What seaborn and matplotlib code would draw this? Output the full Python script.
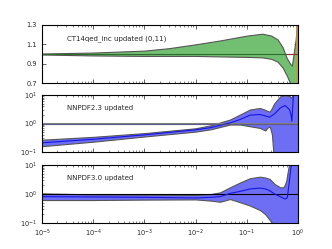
import numpy as np
import pandas as pd
import seaborn as sns
import matplotlib
matplotlib.use("Agg")
import matplotlib.pyplot as plt

# panel 1: CT14qed_inc updated (0,11), linear ratio
x1 = [1e-5, 1e-4, 1e-3, 3e-3, 1e-2, 3e-2, 0.1, 0.2, 0.3, 0.4, 0.5, 0.6, 0.7, 0.76, 0.82, 0.9, 0.95, 1.0]
up1 = [1.005, 1.015, 1.035, 1.06, 1.10, 1.14, 1.19, 1.21, 1.19, 1.15, 1.07, 0.96, 0.90, 0.88, 1.0, 1.15, 1.3, 1.5]
lo1 = [0.995, 0.985, 0.98, 0.98, 0.98, 0.975, 0.97, 0.965, 0.95, 0.92, 0.86, 0.78, 0.70, 0.60, 0.5, 0.5, 0.5, 0.5]
ce1 = [1.0, 1.0, 1.0, 1.0, 1.0, 1.0, 1.0, 1.0, 1.0, 1.0, 1.0, 1.0, 1.0, 1.0, 1.0, 1.0, 1.0, 1.0]

# panel 2: NNPDF2.3 updated, log ratio
x2 = [1e-5, 1e-4, 1e-3, 1e-2, 0.02, 0.047, 0.074, 0.115, 0.18, 0.23, 0.25, 0.28, 0.31, 0.33,
      0.35, 0.45, 0.56, 0.68, 0.73, 0.76, 0.81, 0.9, 1.0]
up2 = [0.27, 0.34, 0.46, 0.68, 0.87, 1.38, 2.07, 3.1, 3.5, 3.0, 2.8, 2.6, 3.5, 4.5,
       5.3, 9.0, 10.0, 9.0, 8.0, 9.0, 12.0, 15.0, 20.0]
lo2 = [0.16, 0.23, 0.35, 0.52, 0.63, 0.92, 0.92, 0.80, 0.70, 0.57, 0.70, 0.80, 0.41, 0.09,
       0.05, 0.03, 0.03, 0.03, 0.03, 0.03, 0.03, 0.03, 0.03]
ce2 = [0.21, 0.28, 0.40, 0.60, 0.72, 1.05, 1.38, 1.96, 2.07, 1.85, 1.75, 1.67, 1.9, 2.05,
       2.2, 3.5, 4.3, 3.1, 2.0, 1.2, 9.0, 15.0, 20.0]

# panel 3: NNPDF3.0 updated, log ratio
x3 = [1e-5, 1e-4, 1e-3, 1e-2, 0.02, 0.03, 0.047, 0.074, 0.115, 0.18, 0.23, 0.28, 0.35, 0.45,
      0.52, 0.56, 0.59, 0.62, 0.65, 0.68, 0.74, 0.85, 1.0]
up3 = [1.05, 0.97, 0.95, 0.92, 1.0, 1.14, 1.7, 2.5, 3.5, 3.96, 3.7, 3.3, 2.2, 1.7,
       1.7, 2.2, 2.9, 5.0, 8.0, 12.0, 15.0, 20.0, 20.0]
lo3 = [0.62, 0.62, 0.64, 0.65, 0.59, 0.54, 0.67, 0.52, 0.40, 0.28, 0.20, 0.127, 0.08, 0.05,
       0.05, 0.05, 0.05, 0.05, 0.05, 0.05, 0.05, 0.05, 0.05]
ce3 = [0.81, 0.79, 0.77, 0.73, 0.77, 0.81, 1.05, 1.23, 1.49, 1.6, 1.5, 1.3, 1.0, 0.81,
       0.72, 0.67, 0.70, 0.77, 1.5, 2.9, 10.0, 20.0, 20.0]

labels = ["CT14qed_inc updated (0,11)", "NNPDF2.3 updated", "NNPDF3.0 updated"]

sns.set_style("ticks")
plt.rcParams.update({
    "font.family": ["DejaVu Sans"],
    "font.size": 5,
    "xtick.direction": "in",
    "ytick.direction": "in",
    "xtick.top": True,
    "ytick.right": True,
    "xtick.major.size": 3,
    "ytick.major.size": 3,
    "xtick.minor.size": 1.5,
    "ytick.minor.size": 1.5,
    "xtick.major.width": 0.5,
    "ytick.major.width": 0.5,
    "xtick.minor.width": 0.4,
    "ytick.minor.width": 0.4,
    "xtick.labelsize": 4.8,
    "ytick.labelsize": 4.8,
    "axes.linewidth": 0.8,
    "axes.edgecolor": "black",
})

fig = plt.figure(figsize=(3.32, 2.49), dpi=100)
W, H = 332, 249
def box(top, bot):
    return [42 / W, 1 - bot / H, 256 / W, (bot - top) / H]

ax1 = fig.add_axes(box(25, 83))
ax2 = fig.add_axes(box(95, 152))
ax3 = fig.add_axes(box(165, 223))

# panel 1
ax1.fill_between(x1, lo1, up1, facecolor="#72bf72", edgecolor="#555555", linewidth=0.8)
sns.lineplot(x=x1, y=ce1, ax=ax1, color="#2e6b2e", linewidth=0.8)
ax1.axvspan(0.93, 1.0, color="#c8963c", alpha=0.8, linewidth=0)
ax1.plot([0.6, 0.93], [1.0, 1.0], color="#a03030", linewidth=0.8)
ax1.set_ylim(0.7, 1.3)
ax1.set_yticks([0.7, 0.9, 1.1, 1.3])

# panel 2
ax2.axhline(1.0, color="#808080", linewidth=1.5)
ax2.fill_between(x2, lo2, up2, facecolor="#6e6ef5", edgecolor="#555555", linewidth=0.8)
sns.lineplot(x=x2, y=ce2, ax=ax2, color="#1515e0", linewidth=0.8)
ax2.axhline(1.0, color="#505080", linewidth=0.8, alpha=0.7)

# panel 3
ax3.fill_between(x3, lo3, up3, facecolor="#6e6ef5", edgecolor="#555555", linewidth=0.8)
ax3.axhline(1.0, color="black", linewidth=0.8)
sns.lineplot(x=x3, y=ce3, ax=ax3, color="#1515e0", linewidth=0.8)

for ax, lab in zip([ax1, ax2, ax3], labels):
    ax.set_xscale("log")
    ax.set_xlim(1e-5, 1.0)
    ax.text(0.098, 0.77, lab, transform=ax.transAxes, fontsize=5, va="center")
    ax.set_xlabel("")
    ax.set_ylabel("")
for ax in [ax2, ax3]:
    ax.set_yscale("log")
    ax.set_ylim(0.1, 10)
ax1.tick_params(labelbottom=False)
ax2.tick_params(labelbottom=False)

fig.savefig("out.png", dpi=100)
